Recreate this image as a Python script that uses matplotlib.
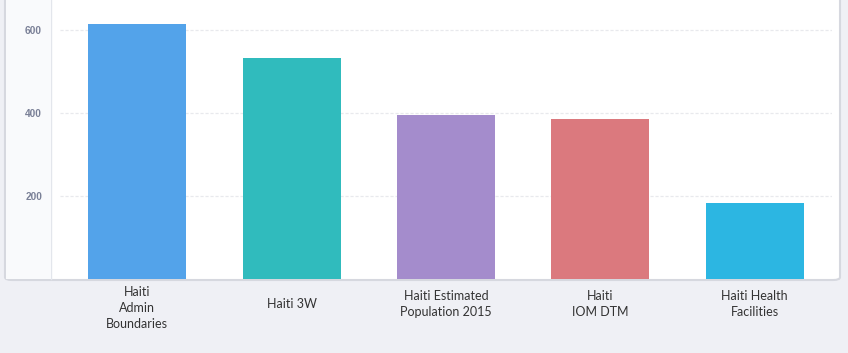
import matplotlib
matplotlib.use("Agg")
import matplotlib.pyplot as plt
from matplotlib.patches import FancyBboxPatch, Rectangle

# data
categories = ["Haiti\nAdmin\nBoundaries", "Haiti 3W", "Haiti Estimated\nPopulation 2015",
              "Haiti\nIOM DTM", "Haiti Health\nFacilities"]
values = [614, 532, 395, 385, 183]
colors = ["#53a3ea", "#30bbbd", "#a48ccc", "#db797e", "#2cb6e2"]
yticks = [200, 400, 600]

W, H = 848, 353
fig = plt.figure(figsize=(W / 100, H / 100), dpi=100)
fig.patch.set_facecolor("#eff0f5")

# white card behind the chart
card = FancyBboxPatch((5 / W, (H - 280) / H), 835 / W, 290 / H,
                      boxstyle="round,pad=0,rounding_size=0.008",
                      transform=fig.transFigure, facecolor="white",
                      edgecolor="#d6d8df", linewidth=1.5, zorder=-2)
fig.patches.append(card)
# light strip holding the y tick labels
fig.patches.append(Rectangle((6 / W, (H - 279) / H), 45 / W, 279 / H,
                             transform=fig.transFigure, facecolor="#f9fafc",
                             edgecolor="none", zorder=-1))
fig.lines.append(plt.Line2D([51 / W, 51 / W], [(H - 279) / H, 1],
                            transform=fig.transFigure, color="#e3e6ec", lw=1, zorder=-1))

ax = fig.add_axes([60 / W, (H - 279) / H, (832 - 60) / W, 279 / H])
ax.set_zorder(5)
ax.set_facecolor("none")
x = range(len(values))
ax.bar(x, values, width=0.635, color=colors, edgecolor="none", zorder=3)
ax.set_xlim(-0.5, len(values) - 0.5)
ax.set_ylim(0, 279 / 0.415)

for v in yticks:
    ax.axhline(v, color="#e8e9ed", lw=0.9, ls=(0, (2.5, 1.5)), zorder=1)
ax.set_yticks([])
ax.set_xticks([])
for s in ax.spines.values():
    s.set_visible(False)

for v in yticks:
    fig.text(42 / W, 1 - (280 - v * 0.415) / H, str(v), ha="right", va="center",
             fontsize=7.3, fontweight="bold", color="#7a8097", family="Liberation Sans")

for i, lab in enumerate(categories):
    off = -29 if lab.count("\n") == 2 else -25
    ax.annotate(lab, xy=(i, 0), xytext=(0, off), textcoords="offset pixels",
                ha="center", va="center", fontsize=9, color="#333333",
                family="Lato", linespacing=1.4, annotation_clip=False)

fig.savefig("out.png", dpi=100, facecolor=fig.get_facecolor())
